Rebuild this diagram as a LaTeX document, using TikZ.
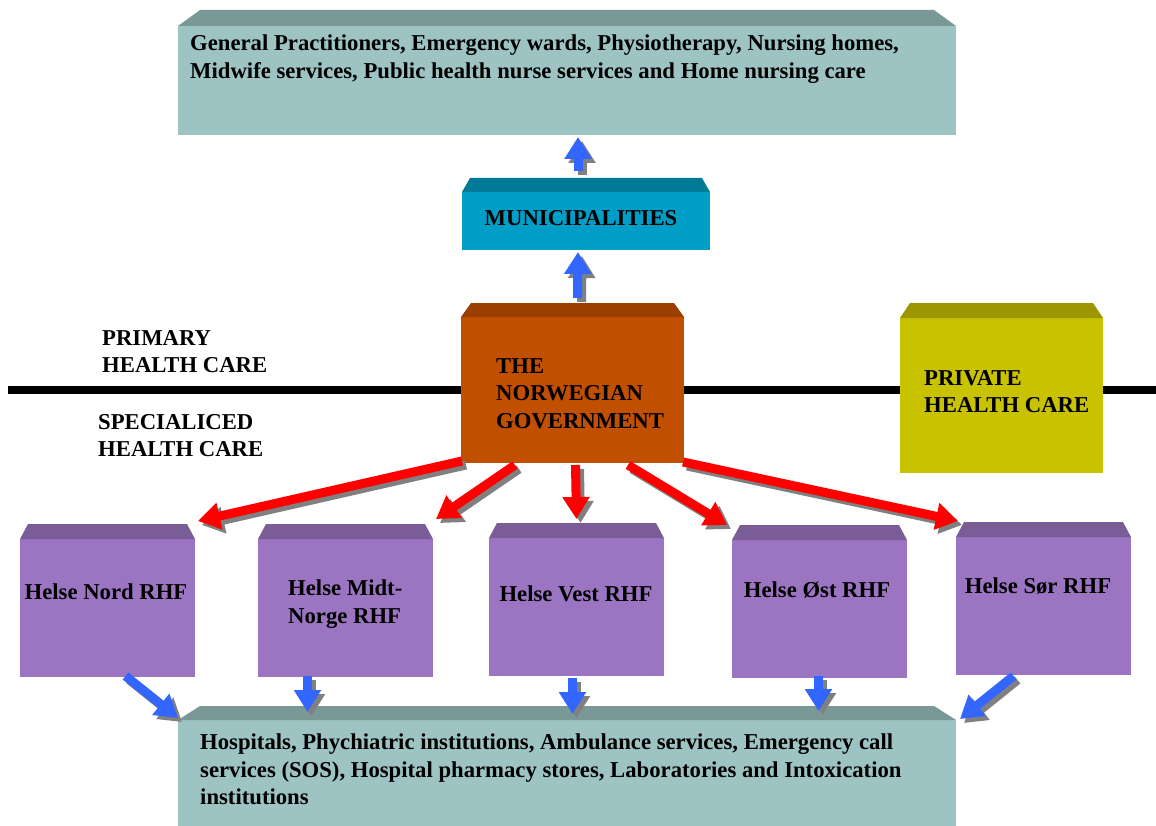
\documentclass[tikz,border=0pt]{standalone}
\usepackage{fontspec}
\setmainfont{Liberation Serif}
\usetikzlibrary{arrows.meta}
\definecolor{tealF}{RGB}{157,195,195}
\definecolor{tealT}{RGB}{122,152,150}
\definecolor{muniF}{RGB}{0,158,198}
\definecolor{muniT}{RGB}{0,122,150}
\definecolor{govF}{RGB}{193,79,0}
\definecolor{govT}{RGB}{154,63,0}
\definecolor{privF}{RGB}{200,194,0}
\definecolor{privT}{RGB}{156,151,0}
\definecolor{purF}{RGB}{155,117,193}
\definecolor{purT}{RGB}{122,93,150}
\definecolor{redA}{RGB}{255,0,0}
\definecolor{blueA}{RGB}{51,102,255}
\definecolor{shadowA}{RGB}{128,128,128}
\newcommand\topface[4]{%
  \fill[#2] (#1.north west) -- ([shift={(#3,-#4)}]#1.north west)
    -- ([shift={(-#3,-#4)}]#1.north east) -- (#1.north east) -- cycle;}
\newcommand\fatarrow[3]{%
  \draw[fatarr, shadowA, transform canvas={shift={(4pt,-4pt)}}] #2 -- #3;
  \draw[fatarr, #1] #2 -- #3;}
\tikzset{
  box/.style={anchor=north west, inner sep=0pt, outer sep=0pt, draw=none},
  lbl/.style={font=\bfseries\fontsize{22.7}{27.5}\selectfont, inner sep=0pt},
  lblnw/.style={lbl, anchor=north west, align=left},
  fatarr/.style={line width=9pt, -{Triangle[width=26pt,length=22pt]}},
}
\begin{document}
\begin{tikzpicture}[x=1pt,y=-1pt]
\useasboundingbox (0,0) rectangle (1156,826);
% divider
\draw[line width=8pt] (8,390) -- (1156,390);
% boxes
\node[box, fill=tealF, minimum width=778pt, minimum height=109pt] (gp) at (178,26) {};
\topface{gp}{tealT}{22}{16}
\node[box, fill=muniF, minimum width=248pt, minimum height=58pt] (muni) at (462,192) {};
\topface{muni}{muniT}{8}{14}
\node[box, fill=govF, minimum width=223pt, minimum height=146pt] (gov) at (461,317) {};
\topface{gov}{govT}{10}{14}
\node[box, fill=privF, minimum width=203pt, minimum height=155pt] (priv) at (900,318) {};
\topface{priv}{privT}{10}{15}
\node[box, fill=purF, minimum width=175pt, minimum height=138pt] (nord) at (20,539) {};
\topface{nord}{purT}{8}{15}
\node[box, fill=purF, minimum width=175pt, minimum height=138pt] (midt) at (258,539) {};
\topface{midt}{purT}{8}{15}
\node[box, fill=purF, minimum width=175pt, minimum height=138pt] (vest) at (489,538) {};
\topface{vest}{purT}{8}{15}
\node[box, fill=purF, minimum width=175pt, minimum height=138pt] (ost) at (732,540) {};
\topface{ost}{purT}{8}{15}
\node[box, fill=purF, minimum width=175pt, minimum height=138pt] (sor) at (956,537) {};
\topface{sor}{purT}{8}{15}
\node[box, fill=tealF, minimum width=778pt, minimum height=110pt] (hosp) at (178,720) {};
\topface{hosp}{tealT}{22}{14}
% texts
\node[lblnw] (gpT) at (190,35) {General Practitioners, Emergency wards, Physiotherapy, Nursing homes,\\Midwife services, Public health nurse services and Home nursing care};
\node[lbl] (muniT) at (581,218) {MUNICIPALITIES};
\node[lblnw] (govT) at (496,358) {THE\\NORWEGIAN\\GOVERNMENT};
\node[lblnw] (privT) at (924,370) {PRIVATE\\HEALTH CARE};
\node[lblnw] (primT) at (102,330) {PRIMARY\\HEALTH CARE};
\node[lblnw] (specT) at (98,414) {SPECIALICED\\HEALTH CARE};
\node[lbl] (nordT) at (106,592) {Helse Nord RHF};
\node[lblnw] (midtT) at (288,580) {Helse Midt-\\Norge RHF};
\node[lbl] (vestT) at (576,594) {Helse Vest RHF};
\node[lbl] (ostT) at (817,590) {Helse Øst RHF};
\node[lbl] (sorT) at (1038,586) {Helse Sør RHF};
\node[lblnw] (hospT) at (200,734) {Hospitals, Phychiatric institutions, Ambulance services, Emergency call\\services (SOS), Hospital pharmacy stores, Laboratories and Intoxication\\institutions};
% blue up arrows
\fatarrow{blueA}{([shift={(-8,-21)}]muni.north)}{([shift={(11,2)}]gp.south)}
\fatarrow{blueA}{([shift={(5,-19)}]gov.north)}{([shift={(-8,2)}]muni.south)}
% red arrows
\fatarrow{redA}{([shift={(1,-2)}]gov.south west)}{([shift={(3,-18)}]nord.north east)}
\fatarrow{redA}{([shift={(54,2)}]gov.south west)}{([shift={(3,-20)}]midt.north east)}
\fatarrow{redA}{([shift={(3,2)}]gov.south)}{([shift={(0,-19)}]vest.north)}
\fatarrow{redA}{([shift={(-56,2)}]gov.south east)}{([shift={(-5,-15)}]ost.north west)}
\fatarrow{redA}{([shift={(-1,-1)}]gov.south east)}{([shift={(2,-16)}]sor.north west)}
% blue down arrows
\fatarrow{blueA}{([shift={(18,-1)}]nord.south)}{([shift={(0,-2)}]hosp.north west)}
\fatarrow{blueA}{([shift={(-38,-1)}]midt.south)}{([shift={(-38,-8)}]midt.south |- hosp.north)}
\fatarrow{blueA}{([shift={(-4,2)}]vest.south)}{([shift={(-4,-6)}]vest.south |- hosp.north)}
\fatarrow{blueA}{([shift={(-1,-2)}]ost.south)}{([shift={(-1,-9)}]ost.south |- hosp.north)}
\fatarrow{blueA}{([shift={(-30,1)}]sor.south)}{([shift={(4,-1)}]hosp.north east)}
\end{tikzpicture}
\end{document}
